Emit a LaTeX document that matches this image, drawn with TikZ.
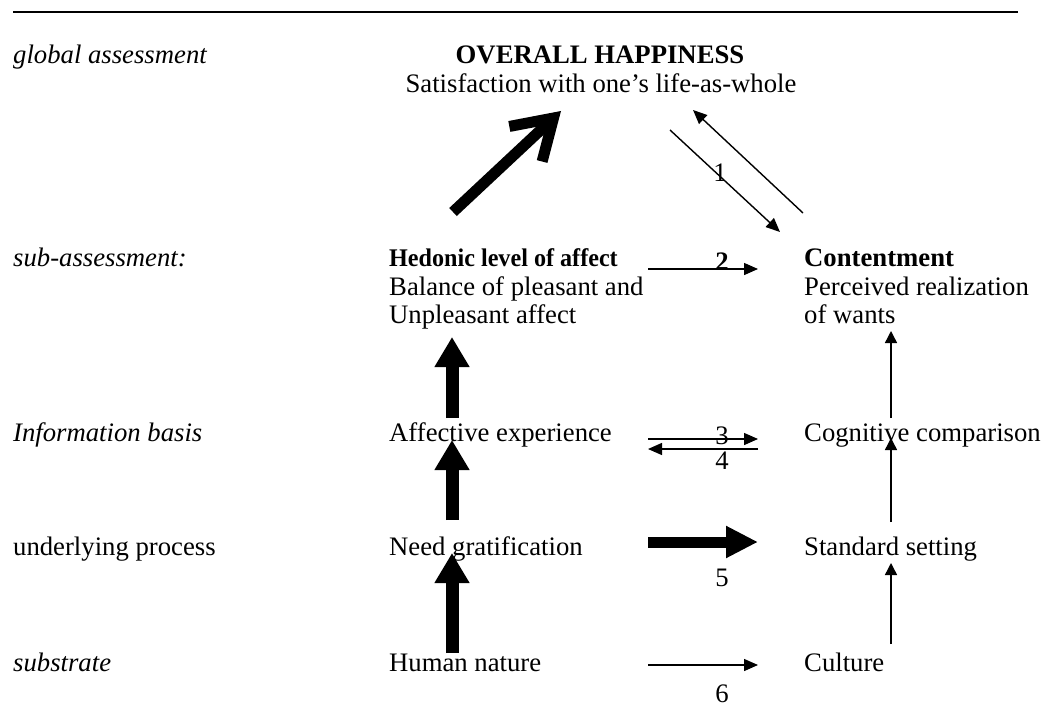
\documentclass[tikz,border=0pt]{standalone}
\usepackage{fontspec}
\setmainfont{Liberation Serif}
\usetikzlibrary{arrows.meta}
\begin{document}
\begin{tikzpicture}[x=1bp,y=-1bp,
  font=\fontsize{26.8}{28.5}\selectfont,
  txt/.style={anchor=base west,inner sep=0pt},
  ctxt/.style={anchor=base,inner sep=0pt},
  num/.style={anchor=base,inner sep=0pt},
  fatarrow/.style={line width=13bp,-{Triangle[length=30bp,width=33bp]}},
  thinarrow/.style={line width=1.4bp,-{Triangle[length=14bp,width=12bp]}},
  vthin/.style={line width=1.4bp,-{Triangle[length=12bp,width=12bp]}},
]
\useasboundingbox (0,0) rectangle (1043,726);
% top rule
\coordinate (ruleL) at (13,12);
\coordinate (ruleR) at (1018,12);
\draw[line width=1.3bp] (ruleL) -- (ruleR);
% left column
\node[txt] (lga) at (13,64) {\itshape global assessment};
\node[txt] (lsa) at (13,266) {\itshape sub-assessment:};
\node[txt] (lib) at (13,441) {\itshape Information basis};
\node[txt] (lup) at (13,555) {underlying process};
\node[txt] (lsu) at (13,671) {\itshape substrate};
% top
\node[ctxt] (oh) at (600,64) {\bfseries OVERALL HAPPINESS};
\node[ctxt] (sat) at (601,93) {Satisfaction with one’s life-as-whole};
% middle column
\node[txt] (hed) at (389,266) {\scalebox{0.95}[1]{\fontsize{25.5}{28.5}\selectfont\bfseries Hedonic level of affect}};
\node[txt] (hed2) at (389,295) {Balance of pleasant and};
\node[txt] (hed3) at (389,323) {Unpleasant affect};
\node[txt] (aff) at (389,441) {Affective experience};
\node[txt] (need) at (389,555) {Need gratification};
\node[txt] (hum) at (389,671) {Human nature};
% right column
\node[txt] (con) at (804,266) {\bfseries Contentment};
\node[txt] (con2) at (804,295) {Perceived realization};
\node[txt] (con3) at (804,323) {of wants};
\node[txt] (cog) at (804,441) {Cognitive comparison};
\node[txt] (std) at (804,555) {Standard setting};
\node[txt] (cul) at (804,671) {Culture};
% arrow end coordinates
\coordinate (d1s) at (453,212);
\coordinate (d1e) at (561,111);
\coordinate (a1s) at (670,130);
\coordinate (a1e) at (780,232);
\coordinate (b1s) at (803,213);
\coordinate (b1e) at (693,110);
\coordinate (h2s) at (648,269); \coordinate (h2e) at (758,269);
\coordinate (h3s) at (648,439); \coordinate (h3e) at (758,439);
\coordinate (h4s) at (758,449); \coordinate (h4e) at (648,449);
\coordinate (h5s) at (648,542); \coordinate (h5e) at (758,542);
\coordinate (h6s) at (648,665); \coordinate (h6e) at (758,665);
\coordinate (v1s) at (452,418); \coordinate (v1e) at (452,337);
\coordinate (v2s) at (452,520); \coordinate (v2e) at (452,440);
\coordinate (v3s) at (452,653); \coordinate (v3e) at (452,553);
\coordinate (r1s) at (891,418); \coordinate (r1e) at (891,331);
\coordinate (r2s) at (891,522); \coordinate (r2e) at (891,438);
\coordinate (r3s) at (891,644); \coordinate (r3e) at (891,563);
% arrows
\draw[line width=11bp,-{Straight Barb[length=38bp,width=48bp]}] (d1s) -- (d1e);
\draw[thinarrow] (a1s) -- (a1e);
\draw[thinarrow] (b1s) -- (b1e);
\draw[thinarrow] (h2s) -- (h2e);
\draw[thinarrow] (h3s) -- (h3e);
\draw[thinarrow] (h4s) -- (h4e);
\draw[line width=11bp,-{Triangle[length=32bp,width=30bp]}] (h5s) -- (h5e);
\draw[thinarrow] (h6s) -- (h6e);
\draw[fatarrow] (v1s) -- (v1e);
\draw[fatarrow] (v2s) -- (v2e);
\draw[fatarrow] (v3s) -- (v3e);
\draw[vthin] (r1s) -- (r1e);
\draw[vthin] (r2s) -- (r2e);
\draw[vthin] (r3s) -- (r3e);
% labels
\node[num] (n1) at (720,182) {1};
\node[num] (n2) at (722,270) {\bfseries 2};
\node[num] (n3) at (722,444) {3};
\node[num] (n4) at (722,469) {4};
\node[num] (n5) at (722,586) {5};
\node[num] (n6) at (722,702) {6};
\end{tikzpicture}
\end{document}
